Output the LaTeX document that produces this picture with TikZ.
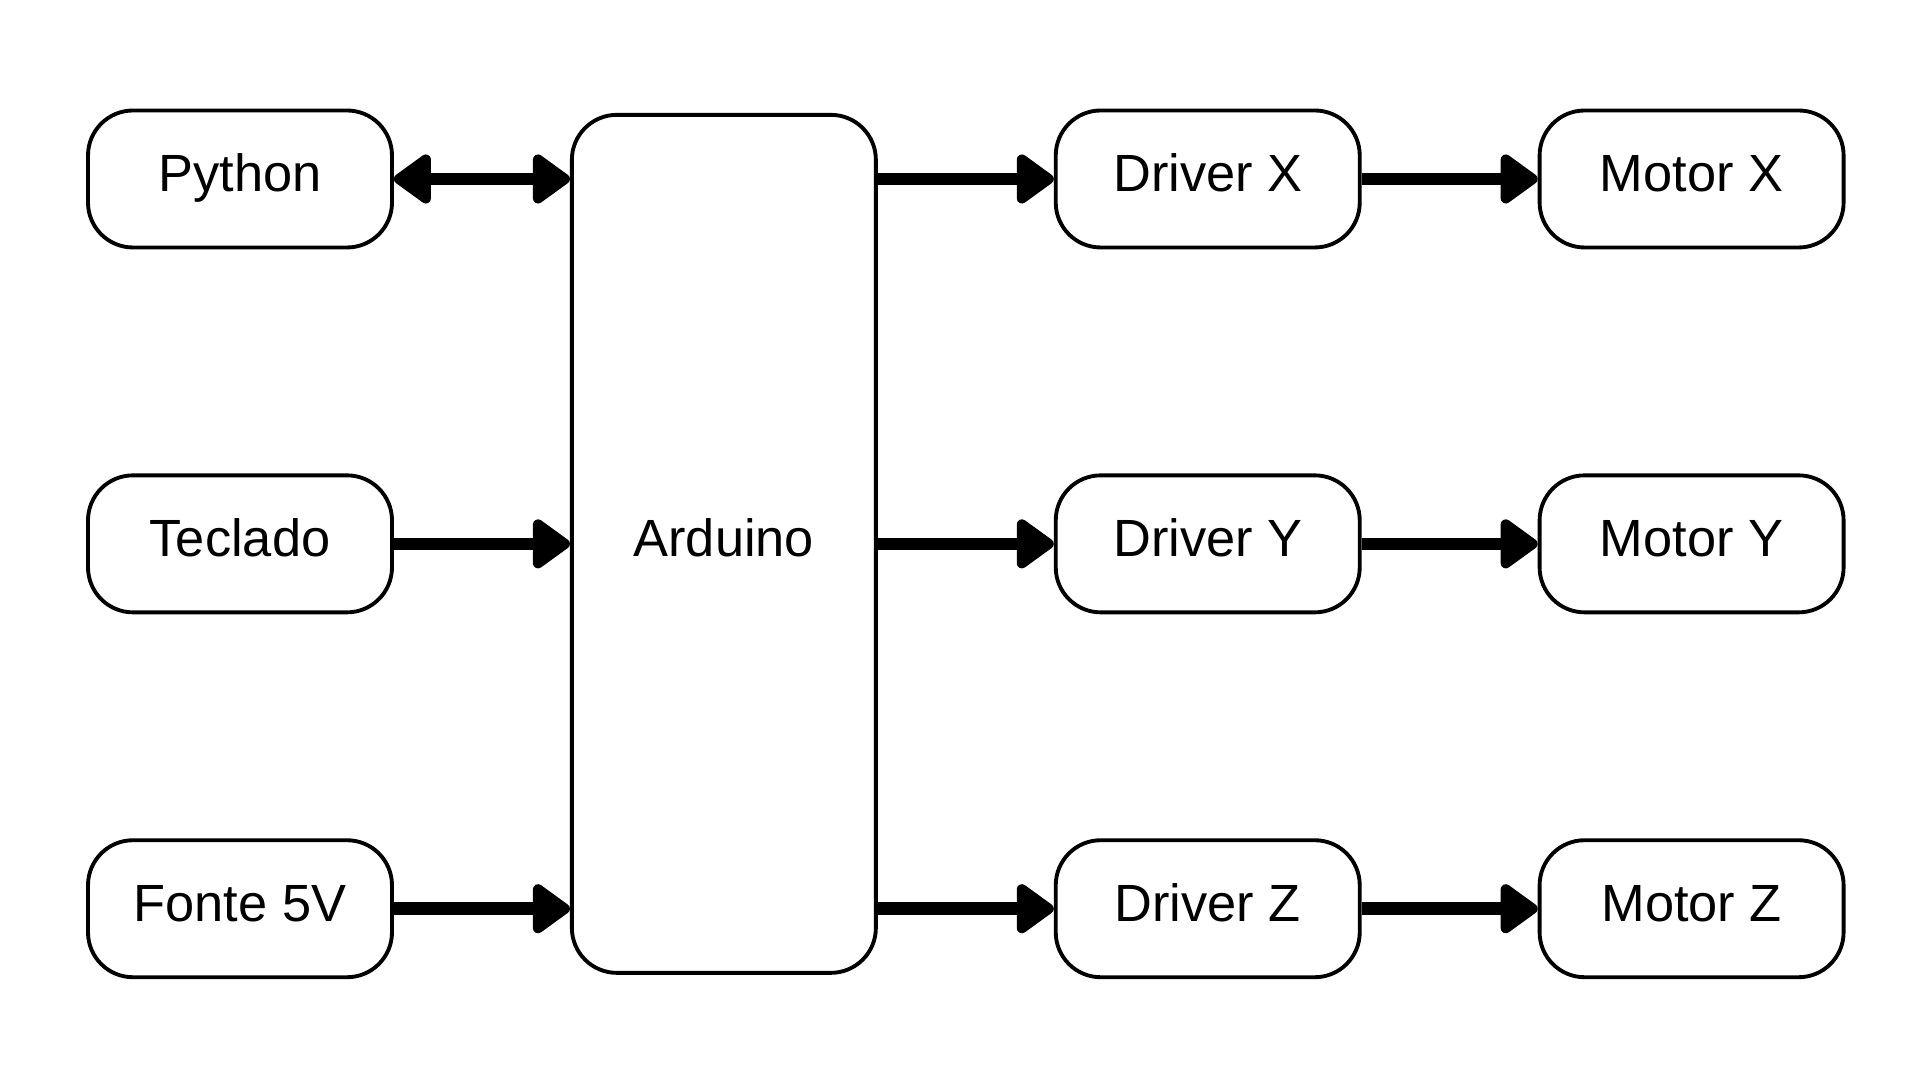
\documentclass[tikz,border=0pt]{standalone}
\usepackage{fontspec}
\setmainfont{Liberation Sans}
\usetikzlibrary{positioning, arrows.meta}

\begin{document}
\begin{tikzpicture}[node distance=2.24cm and 1.76cm, line width=1.1pt,
    every node/.style={rectangle, draw, rounded corners=0.45cm, minimum width=3.04cm, minimum height=1.37cm, inner sep=0pt, font=\fontsize{14.9}{18}\selectfont, text height=0.38cm, text depth=0.12cm},
    >={Triangle[length=0.41cm, width=0.56cm, round]},
    flow/.style={->, line width=3.6pt}]
        \useasboundingbox (0,0) rectangle (19.2,10.8);
        \node (python) at (2.4,9.01) {Python};
        \node[below=of python] (teclado) {Teclado};
        \node[below=of teclado] (fonte) {Fonte 5V};
        \node[right=of teclado, minimum height=8.58cm] (arduino) {Arduino};
        \node[right=of arduino] (drivery) {Driver Y};
        \node[above=of drivery] (driverx) {Driver X};
        \node[below=of drivery] (driverz) {Driver Z};
        \node[right=of driverx] (motorx) {Motor X};
        \node[right=of drivery] (motory) {Motor Y};
        \node[right=of driverz] (motorz) {Motor Z};
        \draw[flow, <->] (python) -- (python -| arduino.west);
        \draw[flow] (teclado) -- (arduino);
        \draw[flow] (fonte) -- (fonte -| arduino.west);
        \draw[flow] (driverx -| arduino.east) -- (driverx);
        \draw[flow] (arduino) -- (drivery);
        \draw[flow] (driverz -| arduino.east) -- (driverz);
        \draw[flow] (driverx) -- (motorx);
        \draw[flow] (drivery) -- (motory);
        \draw[flow] (driverz) -- (motorz);
    \end{tikzpicture}
\end{document}
